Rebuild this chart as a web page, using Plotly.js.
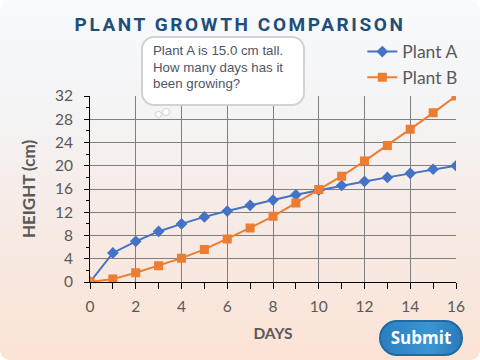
<!DOCTYPE html>
<html>
<head>
<meta charset="utf-8">
<script src="https://cdn.plot.ly/plotly-3.0.1.min.js"></script>
<style>
  html, body { margin:0; padding:0; width:480px; height:360px; overflow:hidden; background:#fff; }
  #wrap { position:relative; width:480px; height:360px; border-radius:10px; overflow:hidden;
    background: linear-gradient(to bottom, #f8fafd 0%, #f4f4f5 30%, #f6ece8 55%, #fbe3d5 100%); }
  #chart { position:absolute; left:0; top:0; width:480px; height:360px; }
  .gtitle { letter-spacing: 2.6px; }
  #callout { position:absolute; left:141px; top:36px; width:164px; height:70px; background:#fff;
    border:2px solid #d2d2d2; border-radius:13px; box-sizing:border-box; z-index:5;
    font-family:"Liberation Sans", Arial, sans-serif; font-size:13.3px; line-height:16.5px; color:#4f5668;
    padding:5px 0 0 10px; }
  .bub { position:absolute; border:1.5px solid #cfcfcf; border-radius:50%; background:#fff; z-index:6; box-sizing:border-box; }
  #submit { position:absolute; left:379px; top:320px; width:84px; height:36px; border-radius:18px; z-index:5;
    background: linear-gradient(to right, #2a7fc1, #3c95d3 60%, #2b7ab8); border:2px solid #1f6aa3; box-sizing:border-box;
    color:#fff; font-family:"Open Sans", sans-serif; font-weight:700; font-size:17px; text-align:center; line-height:31px; }
</style>
</head>
<body>
<div id="wrap">
  <div id="chart"></div>
  <div id="callout">Plant A is 15.0 cm tall.<br>How many days has it<br>been growing?</div>
  <div class="bub" style="left:155px;top:111px;width:7px;height:7px;"></div>
  <div class="bub" style="left:162px;top:108px;width:8px;height:8px;"></div>
  <div id="submit">Submit</div>
</div>
<script>
const days = [0,1,2,3,4,5,6,7,8,9,10,11,12,13,14,15,16];
const plantA = [0,5.0,7.0,8.7,10.0,11.2,12.2,13.2,14.1,15.0,15.8,16.6,17.3,18.0,18.7,19.4,20.0];
const plantB = [0,0.5,1.6,2.8,4.1,5.6,7.4,9.3,11.3,13.6,15.9,18.2,20.8,23.5,26.3,29.1,32.0];
const seriesNames = ['Plant A','Plant B'];
const xTicks = [0,2,4,6,8,10,12,14,16];
const yTicks = [0,4,8,12,16,20,24,28,32];

const tickFont = {family:'Lato, "Open Sans", sans-serif', size:15.5, color:'#595959'};
const traces = [
  {x:days, y:plantA, name:seriesNames[0], mode:'lines+markers',
   line:{color:'#4472c4', width:2}, marker:{symbol:'diamond', size:9, color:'#4472c4'}},
  {x:days, y:plantB, name:seriesNames[1], mode:'lines+markers',
   line:{color:'#ed7d31', width:2}, marker:{symbol:'square', size:9, color:'#ed7d31'}}
];
const layout = {
  width:480, height:360,
  margin:{l:90, r:24, t:96, b:78},
  paper_bgcolor:'rgba(0,0,0,0)', plot_bgcolor:'rgba(0,0,0,0)',
  title:{text:'PLANT GROWTH COMPARISON', x:0.5, xref:'container', y:1-24/360, yref:'container', yanchor:'middle',
    font:{family:'Roboto, "DejaVu Sans", sans-serif', size:19, weight:700, color:'#1f4e79'}},
  showlegend:true,
  legend:{x:1.02, xanchor:'right', y:1.335, yanchor:'top', bgcolor:'rgba(0,0,0,0)',
    font:{family:'Lato, "Open Sans", sans-serif', size:17.5, color:'#595959'}, tracegroupgap:0, itemwidth:30},
  xaxis:{range:[0,16], tickvals:xTicks, ticktext:xTicks.map(String), tickfont:tickFont,
    showgrid:true, gridcolor:'#7f7f7f', gridwidth:1, zeroline:false,
    showline:true, linecolor:'#000', linewidth:1, ticks:'outside', ticklen:6, tickcolor:'#000', ticklabelstandoff:4,
    minor:{dtick:1, tick0:0, ticks:'outside', ticklen:6, tickcolor:'#000', showgrid:false},
    title:{text:'DAYS', standoff:14, font:{family:'Lato, "Open Sans", sans-serif', size:15.5, weight:700, color:'#595959'}},
    fixedrange:true},
  yaxis:{range:[0,32], tickvals:yTicks, ticktext:yTicks.map(String), tickfont:tickFont,
    showgrid:true, gridcolor:'#7f7f7f', gridwidth:1, zeroline:false,
    showline:true, linecolor:'#000', linewidth:1, ticks:'outside', ticklen:5, tickcolor:'#000', ticklabelstandoff:8,
    minor:{dtick:2, tick0:0, ticks:'outside', ticklen:3, tickcolor:'#000', showgrid:false},
    title:{text:'HEIGHT (cm)', standoff:14, font:{family:'Lato, "Open Sans", sans-serif', size:17, weight:700, color:'#595959'}},
    fixedrange:true}
};
Plotly.newPlot('chart', traces, layout, {displayModeBar:false, staticPlot:true});
</script>
</body>
</html>
